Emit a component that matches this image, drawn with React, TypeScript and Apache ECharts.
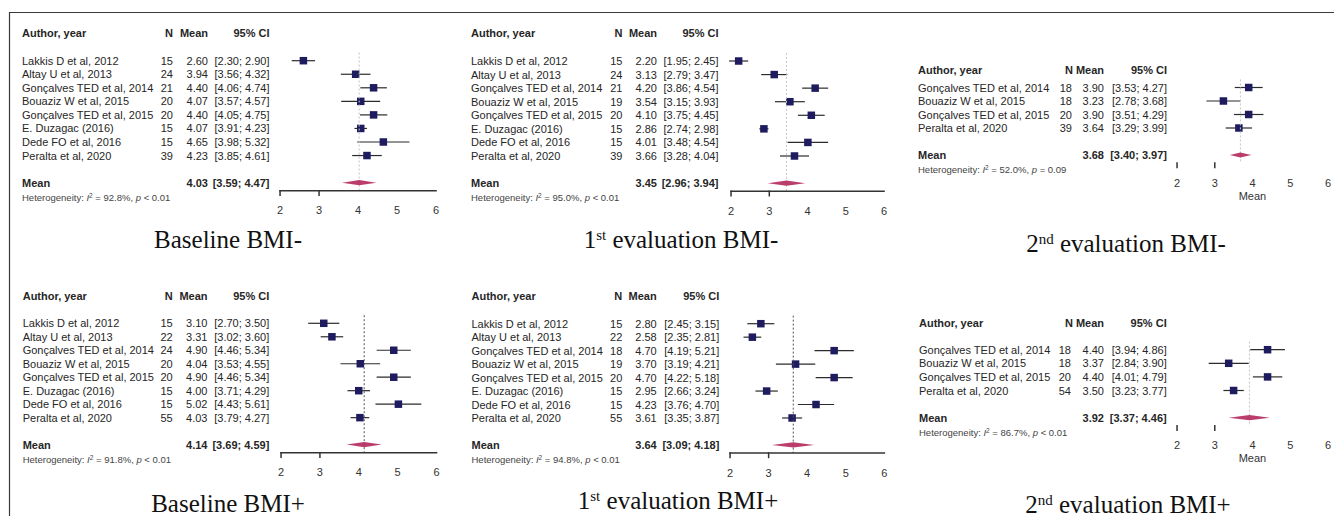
import { useEffect, useRef } from "react";
import * as echarts from "echarts";

const SANS = "'Liberation Sans', Arial, Helvetica, sans-serif";
const SERIF = "'Liberation Serif', 'Times New Roman', serif";

// ---------------- data ----------------
const studies8 = [
  "Lakkis D et al, 2012",
  "Altay U et al, 2013",
  "Gonçalves TED et al, 2014",
  "Bouaziz W et al, 2015",
  "Gonçalves TED et al, 2015",
  "E. Duzagac (2016)",
  "Dede FO et al, 2016",
  "Peralta et al, 2020",
];
const studies4 = [
  "Gonçalves TED et al, 2014",
  "Bouaziz W et al, 2015",
  "Gonçalves TED et al, 2015",
  "Peralta et al, 2020",
];
const axisRange = [2, 6];
const axisTickValues = [2, 3];

// Baseline BMI-
const baseMinusN = [15, 24, 21, 20, 20, 15, 15, 39];
const baseMinusMean = [2.6, 3.94, 4.4, 4.07, 4.4, 4.07, 4.65, 4.23];
const baseMinusLower = [2.3, 3.56, 4.06, 3.57, 4.05, 3.91, 3.98, 3.85];
const baseMinusUpper = [2.9, 4.32, 4.74, 4.57, 4.75, 4.23, 5.32, 4.61];
const baseMinusPooled = [4.03, 3.59, 4.47];
const baseMinusHet = ["92.8%", "< 0.01"];

// 1st evaluation BMI-
const eval1MinusN = [15, 24, 21, 19, 20, 15, 15, 39];
const eval1MinusMean = [2.2, 3.13, 4.2, 3.54, 4.1, 2.86, 4.01, 3.66];
const eval1MinusLower = [1.95, 2.79, 3.86, 3.15, 3.75, 2.74, 3.48, 3.28];
const eval1MinusUpper = [2.45, 3.47, 4.54, 3.93, 4.45, 2.98, 4.54, 4.04];
const eval1MinusPooled = [3.45, 2.96, 3.94];
const eval1MinusHet = ["95.0%", "< 0.01"];

// 2nd evaluation BMI-
const eval2MinusN = [18, 18, 20, 39];
const eval2MinusMean = [3.9, 3.23, 3.9, 3.64];
const eval2MinusLower = [3.53, 2.78, 3.51, 3.29];
const eval2MinusUpper = [4.27, 3.68, 4.29, 3.99];
const eval2MinusPooled = [3.68, 3.4, 3.97];
const eval2MinusHet = ["52.0%", "= 0.09"];

// Baseline BMI+
const basePlusN = [15, 22, 24, 20, 20, 15, 15, 55];
const basePlusMean = [3.1, 3.31, 4.9, 4.04, 4.9, 4.0, 5.02, 4.03];
const basePlusLower = [2.7, 3.02, 4.46, 3.53, 4.46, 3.71, 4.43, 3.79];
const basePlusUpper = [3.5, 3.6, 5.34, 4.55, 5.34, 4.29, 5.61, 4.27];
const basePlusPooled = [4.14, 3.69, 4.59];
const basePlusHet = ["91.8%", "< 0.01"];

// 1st evaluation BMI+
const eval1PlusN = [15, 22, 18, 19, 20, 15, 15, 55];
const eval1PlusMean = [2.8, 2.58, 4.7, 3.7, 4.7, 2.95, 4.23, 3.61];
const eval1PlusLower = [2.45, 2.35, 4.19, 3.19, 4.22, 2.66, 3.76, 3.35];
const eval1PlusUpper = [3.15, 2.81, 5.21, 4.21, 5.18, 3.24, 4.7, 3.87];
const eval1PlusPooled = [3.64, 3.09, 4.18];
const eval1PlusHet = ["94.8%", "< 0.01"];

// 2nd evaluation BMI+
const eval2PlusN = [18, 18, 20, 54];
const eval2PlusMean = [4.4, 3.37, 4.4, 3.5];
const eval2PlusLower = [3.94, 2.84, 4.01, 3.23];
const eval2PlusUpper = [4.86, 3.9, 4.79, 3.77];
const eval2PlusPooled = [3.92, 3.37, 4.46];
const eval2PlusHet = ["86.7%", "< 0.01"];

const panelTitles = [
  "{b|Baseline BMI-}",
  "{b|1}{s|st}{b| evaluation BMI-}",
  "{b|2}{s|nd}{b| evaluation BMI-}",
  "{b|Baseline BMI+}",
  "{b|1}{s|st}{b| evaluation BMI+}",
  "{b|2}{s|nd}{b| evaluation BMI+}",
];

const panelData = [
  { studies: studies8, n: baseMinusN, mean: baseMinusMean, lower: baseMinusLower, upper: baseMinusUpper, pooled: baseMinusPooled, het: baseMinusHet },
  { studies: studies8, n: eval1MinusN, mean: eval1MinusMean, lower: eval1MinusLower, upper: eval1MinusUpper, pooled: eval1MinusPooled, het: eval1MinusHet },
  { studies: studies4, n: eval2MinusN, mean: eval2MinusMean, lower: eval2MinusLower, upper: eval2MinusUpper, pooled: eval2MinusPooled, het: eval2MinusHet },
  { studies: studies8, n: basePlusN, mean: basePlusMean, lower: basePlusLower, upper: basePlusUpper, pooled: basePlusPooled, het: basePlusHet },
  { studies: studies8, n: eval1PlusN, mean: eval1PlusMean, lower: eval1PlusLower, upper: eval1PlusUpper, pooled: eval1PlusPooled, het: eval1PlusHet },
  { studies: studies4, n: eval2PlusN, mean: eval2PlusMean, lower: eval2PlusLower, upper: eval2PlusUpper, pooled: eval2PlusPooled, het: eval2PlusHet },
];

// ---------------- layout ----------------
const layouts = [
  { authorX: 22, nX: 173, nHeadX: 173, meanX: 208, ciX: 269.5, x0: 280, x1: 436, firstY: 60.7, step: 13.55, headerIdx: -2.05, refColor: "#c4c4c4", axisLine: true, axisName: "", titleX: 228, titleY: 239 },
  { authorX: 471, nX: 622.5, nHeadX: 622.5, meanX: 657, ciX: 718.5, x0: 731, x1: 884, firstY: 61, step: 13.57, headerIdx: -2.05, refColor: "#c4c4c4", axisLine: true, axisName: "", titleX: 681, titleY: 239 },
  { authorX: 918, nX: 1072, nHeadX: 1073, meanX: 1104, ciX: 1167, x0: 1177, x1: 1330, firstY: 87.5, step: 13.5, headerIdx: -1.3, refColor: "#c4c4c4", axisLine: false, axisName: "Mean", titleX: 1126, titleY: 243 },
  { authorX: 22.7, nX: 172.7, nHeadX: 172.7, meanX: 207.5, ciX: 269.3, x0: 281, x1: 436.5, firstY: 323.3, step: 13.48, headerIdx: -2.0, refColor: "#555555", axisLine: true, axisName: "", titleX: 228, titleY: 503 },
  { authorX: 471.5, nX: 622.3, nHeadX: 622.3, meanX: 656.7, ciX: 719.3, x0: 730, x1: 884.3, firstY: 323.7, step: 13.47, headerIdx: -2.03, refColor: "#555555", axisLine: true, axisName: "", titleX: 678, titleY: 500 },
  { authorX: 919, nX: 1071, nHeadX: 1073, meanX: 1104, ciX: 1166.7, x0: 1177, x1: 1333, firstY: 349.7, step: 13.6, headerIdx: -1.96, refColor: "#c4c4c4", axisLine: false, axisName: "Mean", titleX: 1128, titleY: 504 },
];

const TEXT = "#262626";
const AXIS = "#333333";

function txt(x: number, y: number, text: string, align: string, bold = false, size = 11, fill = TEXT) {
  return {
    type: "text",
    x,
    y,
    silent: true,
    style: {
      text,
      fontSize: size,
      fontFamily: SANS,
      fontWeight: bold ? "bold" : "normal",
      fill,
      align,
      textAlign: align,
      verticalAlign: "middle",
      textVerticalAlign: "middle",
    },
  };
}

function buildOption() {
  const grids: any[] = [];
  const xAxes: any[] = [];
  const yAxes: any[] = [];
  const series: any[] = [];

  panelData.forEach((d, p) => {
    const L = layouts[p];
    const k = d.mean.length;
    grids.push({
      left: L.x0,
      width: L.x1 - L.x0,
      top: L.firstY - L.step,
      height: (k + 2.6) * L.step,
      containLabel: false,
    });
    xAxes.push({
      type: "value",
      gridIndex: p,
      position: "bottom",
      min: axisRange[0],
      max: axisRange[1],
      interval: 1,
      splitLine: { show: false },
      axisLine: { show: false, onZero: false },
      axisTick: { show: false },
      axisLabel: { fontSize: 11, color: "#333", fontFamily: SANS, margin: 14 },
      name: L.axisName,
      nameLocation: "middle",
      nameGap: 27,
      nameTextStyle: { fontSize: 11, color: "#333", fontFamily: SANS },
    });
    yAxes.push({
      type: "value",
      gridIndex: p,
      inverse: true,
      min: -1,
      max: k + 1.6,
      show: false,
      splitLine: { show: false },
    });

    // study rows
    series.push({
      type: "custom",
      xAxisIndex: p,
      yAxisIndex: p,
      clip: false,
      silent: true,
      data: d.mean.map((m, i) => [m, i, d.lower[i], d.upper[i]]),
      renderItem: (params: any, api: any) => {
        const i = params.dataIndex;
        const row = api.value(1);
        const pm = api.coord([api.value(0), row]);
        const pl = api.coord([api.value(2), row]);
        const ph = api.coord([api.value(3), row]);
        const y = pm[1];
        const s = 7.5;
        return {
          type: "group",
          children: [
            { type: "line", shape: { x1: pl[0], y1: pl[1], x2: ph[0], y2: ph[1] }, style: { stroke: "#2b2b2b", lineWidth: 1.2 } },
            { type: "rect", shape: { x: pm[0] - s / 2, y: pm[1] - s / 2, width: s, height: s }, style: { fill: "#1e1b5e" } },
            txt(L.authorX, y, d.studies[i], "left"),
            txt(L.nX, y, String(d.n[i]), "right"),
            txt(L.meanX, y, d.mean[i].toFixed(2), "right"),
            txt(L.ciX, y, `[${d.lower[i].toFixed(2)}; ${d.upper[i].toFixed(2)}]`, "right"),
          ],
        };
      },
    });

    // axis line and ticks, placed through the axis scales
    series.push({
      type: "custom",
      xAxisIndex: p,
      yAxisIndex: p,
      clip: false,
      silent: true,
      z: 5,
      data: axisTickValues.map((v) => [v, k + 1.6]),
      renderItem: (params: any, api: any) => {
        const pt = api.coord([api.value(0), api.value(1)]);
        const a0 = api.coord([axisRange[0], api.value(1)]);
        const a1 = api.coord([axisRange[1], api.value(1)]);
        const ay = pt[1] - 0.8;
        const children: any[] = [
          { type: "rect", shape: { x: pt[0] - 0.7, y: ay, width: 1.5, height: 6 }, style: { fill: AXIS } },
        ];
        if (L.axisLine && params.dataIndex === 0) {
          children.push({
            type: "rect",
            shape: { x: a0[0] - 0.7, y: ay, width: a1[0] - a0[0] + 1.5, height: 1.6 },
            style: { fill: AXIS },
          });
        }
        return { type: "group", children };
      },
    });

    // pooled row, header, heterogeneity, reference line, title
    series.push({
      type: "custom",
      xAxisIndex: p,
      yAxisIndex: p,
      clip: false,
      silent: true,
      data: [[d.pooled[0], k + 1, d.pooled[1], d.pooled[2]]],
      renderItem: (params: any, api: any) => {
        const row = api.value(1);
        const pm = api.coord([api.value(0), row]);
        const pl = api.coord([api.value(2), row]);
        const ph = api.coord([api.value(3), row]);
        const top = api.coord([api.value(0), -0.6]);
        const bottom = api.coord([api.value(0), k + 1.6]);
        const headY = api.coord([api.value(0), L.headerIdx])[1];
        const hetY = api.coord([api.value(0), k + 2.07])[1];
        const h = 2.6;
        return {
          type: "group",
          children: [
            {
              type: "line",
              shape: { x1: top[0], y1: top[1], x2: bottom[0], y2: bottom[1] },
              style: { stroke: L.refColor, lineWidth: 1, lineDash: [2, 2] },
            },
            {
              type: "polygon",
              shape: { points: [[pl[0], pl[1]], [pm[0], pm[1] - h], [ph[0], ph[1]], [pm[0], pm[1] + h]] },
              style: { fill: "#b52c60", opacity: 0.92 },
            },
            txt(L.authorX, headY, "Author, year", "left", true),
            txt(L.nHeadX, headY, "N", "right", true),
            txt(L.meanX, headY, "Mean", "right", true),
            txt(L.ciX, headY, "95% CI", "right", true),
            txt(L.authorX, pm[1], "Mean", "left", true),
            txt(L.meanX, pm[1], d.pooled[0].toFixed(2), "right", true),
            txt(L.ciX, pm[1], `[${d.pooled[1].toFixed(2)}; ${d.pooled[2].toFixed(2)}]`, "right", true),
            {
              type: "text",
              x: L.authorX,
              y: hetY,
              silent: true,
              style: {
                text: `{t|Heterogeneity: }{i|I}{u|2}{t| = ${d.het[0]}, }{i|p}{t| ${d.het[1]}}`,
                align: "left",
                textAlign: "left",
                verticalAlign: "middle",
                textVerticalAlign: "middle",
                fontSize: 9.5,
                fontFamily: SANS,
                fill: "#444",
                rich: {
                  t: { fontSize: 9.5, fontFamily: SANS, fill: "#444", lineHeight: 11 },
                  i: { fontSize: 9.5, fontFamily: SANS, fill: "#444", fontStyle: "italic", lineHeight: 11 },
                  u: { fontSize: 6.5, fontFamily: SANS, fill: "#444", verticalAlign: "top", lineHeight: 8 },
                },
              },
            },
            {
              type: "text",
              x: L.titleX,
              y: L.titleY,
              silent: true,
              style: {
                text: panelTitles[p],
                align: "center",
                textAlign: "center",
                verticalAlign: "middle",
                textVerticalAlign: "middle",
                fontSize: 25,
                fontFamily: SERIF,
                fill: "#111",
                rich: {
                  b: { fontSize: 25, fontFamily: SERIF, fill: "#111", lineHeight: 24 },
                  s: { fontSize: 15, fontFamily: SERIF, fill: "#111", verticalAlign: "top", lineHeight: 15 },
                },
              },
            },
          ],
        };
      },
    });
  });

  return {
    animation: false,
    backgroundColor: "#ffffff",
    grid: grids,
    xAxis: xAxes,
    yAxis: yAxes,
    series,
    graphic: [
      {
        type: "rect",
        silent: true,
        shape: { x: 9.5, y: 12.5, width: 1400, height: 600 },
        style: { fill: "none", stroke: "#3a3a3a", lineWidth: 1.2 },
      },
    ],
  };
}

export default function App() {
  const ref = useRef<HTMLDivElement>(null);
  useEffect(() => {
    if (!ref.current) return;
    const chart = echarts.init(ref.current, null, { renderer: "svg" });
    chart.setOption(buildOption() as any);
    return () => chart.dispose();
  }, []);
  return (
    <div
      ref={ref}
      style={{ position: "fixed", left: 0, top: 0, width: 1334, height: 516, background: "#fff" }}
    />
  );
}
